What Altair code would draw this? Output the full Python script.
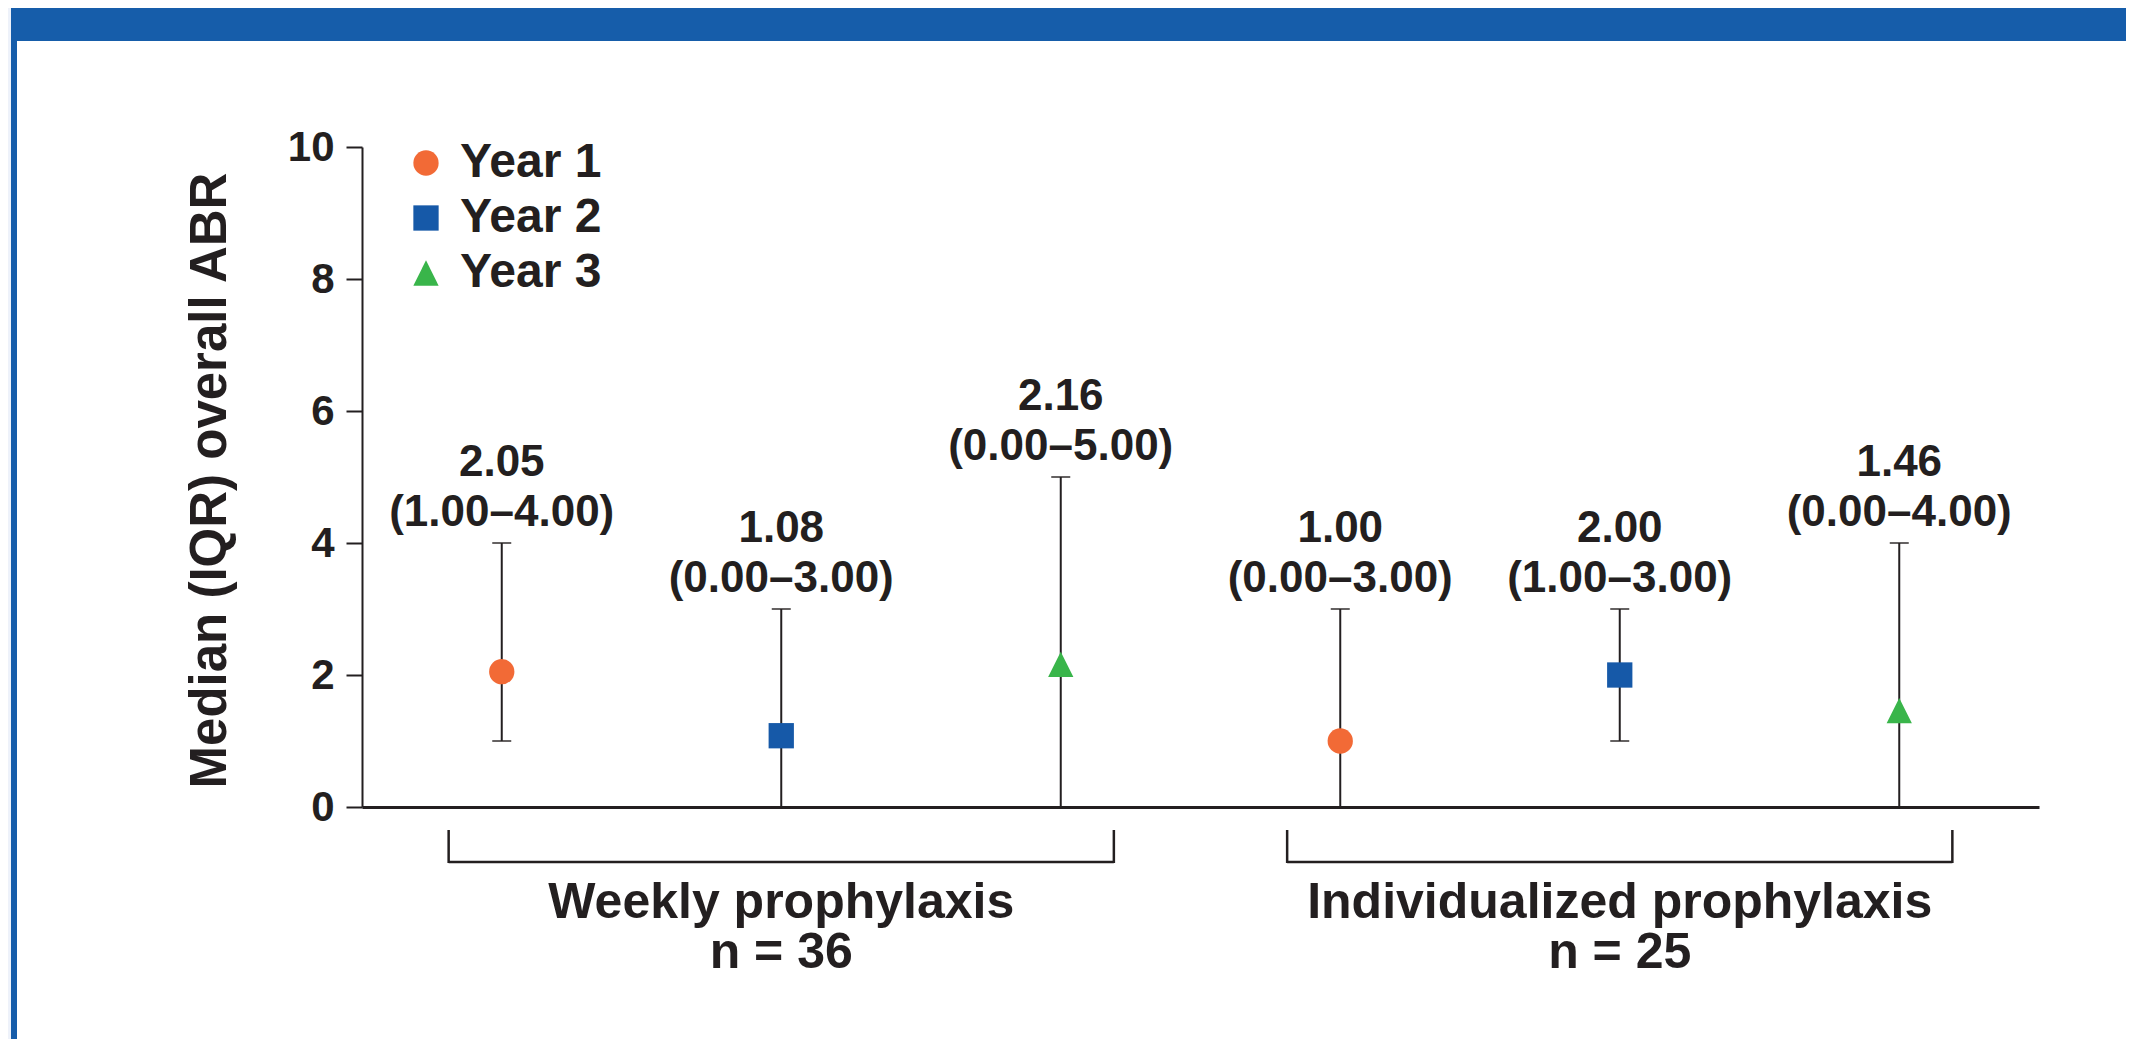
import altair as alt
import pandas as pd

# ---------------- data ----------------
groups = ["Weekly prophylaxis", "Individualized prophylaxis"]
group_n = [36, 25]
years = ["Year 1", "Year 2", "Year 3"]
point_group = ["Weekly prophylaxis"] * 3 + ["Individualized prophylaxis"] * 3
point_year = years * 2
slots = [1, 2, 3, 4, 5, 6]
medians = [2.05, 1.08, 2.16, 1.00, 2.00, 1.46]
q1 = [1.00, 0.00, 0.00, 0.00, 1.00, 0.00]
q3 = [4.00, 3.00, 5.00, 3.00, 3.00, 4.00]
y_ticks = [0, 2, 4, 6, 8, 10]
year_colors = ["#F26A36", "#1659A8", "#39B54A"]
year_shapes = ["circle", "square", "M0,-1L1,1L-1,1Z"]

# ---------------- styling ----------------
FONT = "Liberation Sans"
INK = "#231F20"
HEADER = "#165DAA"
PW, PH = 1677, 660
PAD = {"left": 354, "top": 139, "right": 87, "bottom": 232}

pts = pd.DataFrame({
    "group": point_group, "year": point_year, "slot": slots,
    "median": medians, "q1": q1, "q3": q3,
})
pts["label"] = [f"{m:.2f}\n({a:.2f}\u2013{b:.2f})" for m, a, b in zip(medians, q1, q3)]

grp_rows = []
for g, n in zip(groups, group_n):
    s = [sl for sl, pg in zip(slots, point_group) if pg == g]
    grp_rows.append({"group": g, "text": f"{g}\nn = {n}",
                     "center": sum(s) / len(s), "start": min(s) - 0.19, "end": max(s) + 0.19})
grp = pd.DataFrame(grp_rows)

xscale = alt.Scale(domain=[0.5, 6.5], nice=False, zero=False)
yscale = alt.Scale(domain=[0, 10], nice=False, zero=False)

xenc = alt.X("slot:Q", scale=xscale,
             axis=alt.Axis(labels=False, ticks=False, title=None, grid=False,
                           domainWidth=3, domainColor=INK))
yaxis = alt.Axis(values=y_ticks, format="d", grid=False, tickSize=16, tickWidth=2,
                 tickColor=INK, domainWidth=2, domainColor=INK, labelFont=FONT,
                 labelFontSize=42, labelFontWeight="bold", labelColor=INK, labelPadding=12,
                 labelFlush=False, labelOverlap=False,
                 title="Median (IQR) overall ABR", titleFont=FONT, titleFontSize=51,
                 titleFontWeight="bold", titleColor=INK, titleAngle=270,
                 titleX=-137, titleY=333, titleAlign="center", titleBaseline="alphabetic")

legend = alt.Legend(title=None, orient="none", legendX=40, legendY=-8, padding=0,
                    labelFont=FONT, labelFontSize=48, labelFontWeight="bold",
                    labelColor=INK, labelOffset=10, rowPadding=7, symbolSize=640,
                    symbolStrokeWidth=0, symbolOpacity=1)

base = alt.Chart(pts)

bars = base.mark_rule(color=INK, strokeWidth=2).encode(
    x=xenc, y=alt.Y("q1:Q", scale=yscale, axis=yaxis), y2="q3:Q")

cap_hi = base.mark_tick(color=INK, size=19, thickness=2, orient="horizontal").encode(
    x=alt.X("slot:Q", scale=xscale), y=alt.Y("q3:Q", scale=yscale))
cap_lo = base.mark_tick(color=INK, size=19, thickness=2, orient="horizontal").encode(
    x=alt.X("slot:Q", scale=xscale), y=alt.Y("q1:Q", scale=yscale))

points = base.mark_point(filled=True, size=640, opacity=1, strokeWidth=0).encode(
    x=alt.X("slot:Q", scale=xscale),
    y=alt.Y("median:Q", scale=yscale),
    color=alt.Color("year:N", scale=alt.Scale(domain=years, range=year_colors), legend=legend),
    shape=alt.Shape("year:N", scale=alt.Scale(domain=years, range=year_shapes), legend=legend),
)

labels = base.mark_text(font=FONT, fontSize=44, fontWeight="bold", color=INK,
                        baseline="alphabetic", align="center", lineBreak="\n",
                        lineHeight=50, dy=-67).encode(
    x=alt.X("slot:Q", scale=xscale), y=alt.Y("q3:Q", scale=yscale), text="label:N")

gbase = alt.Chart(grp)
br_h = gbase.mark_rule(color=INK, strokeWidth=2.5).encode(
    x=alt.X("start:Q", scale=xscale), x2="end:Q", y=alt.value(715))
br_l = gbase.mark_rule(color=INK, strokeWidth=2.5).encode(
    x=alt.X("start:Q", scale=xscale), y=alt.value(683), y2=alt.value(716))
br_r = gbase.mark_rule(color=INK, strokeWidth=2.5).encode(
    x=alt.X("end:Q", scale=xscale), y=alt.value(683), y2=alt.value(716))
glabels = gbase.mark_text(font=FONT, fontSize=50, fontWeight="bold", color=INK,
                          baseline="alphabetic", align="center", lineBreak="\n",
                          lineHeight=50).encode(
    x=alt.X("center:Q", scale=xscale), y=alt.value(771), text="text:N")

deco = alt.Chart(pd.DataFrame({"k": [0]}))
header = deco.mark_rect(color=HEADER).encode(
    x=alt.value(-351), x2=alt.value(PW + PAD["right"] + 5),
    y=alt.value(-PAD["top"]), y2=alt.value(-106))
strip = deco.mark_rect(color="#EEF2FA").encode(
    x=alt.value(-PAD["left"]), x2=alt.value(-351),
    y=alt.value(-PAD["top"]), y2=alt.value(PH + PAD["bottom"]))
side = deco.mark_rect(color=HEADER).encode(
    x=alt.value(-351), x2=alt.value(-345),
    y=alt.value(-PAD["top"]), y2=alt.value(PH + PAD["bottom"]))

chart = alt.layer(
    header, strip, side, bars, cap_hi, cap_lo, points, labels, br_h, br_l, br_r, glabels
).properties(
    width=PW, height=PH, padding=PAD,
    autosize=alt.AutoSizeParams(type="none"),
    background="white",
).configure_view(stroke=None)

chart.save("out.html", embed_options={"renderer": "svg", "actions": False})
